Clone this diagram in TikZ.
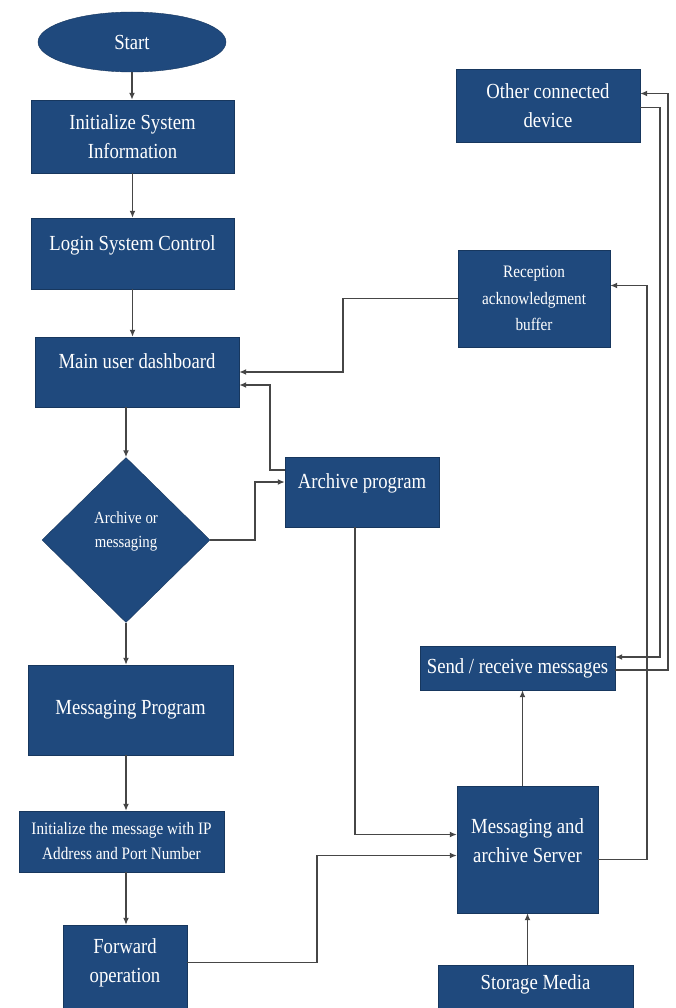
\documentclass[tikz,border=0pt]{standalone}
\usepackage{fontspec}
\setmainfont{Liberation Serif}[FakeStretch=0.87]
\usetikzlibrary{shapes.geometric,arrows.meta}
\definecolor{boxblue}{RGB}{31,73,125}
\definecolor{wire}{RGB}{70,70,70}
\newcommand{\bigtext}{\fontsize{21.5}{29}\selectfont}
\newcommand{\smalltext}{\fontsize{17.5}{25}\selectfont}

\begin{document}
\begin{tikzpicture}[x=1pt,y=-1pt,
  box/.style={draw=boxblue!75!black, fill=boxblue, text=white, rectangle, align=center, inner sep=0pt, font=\bigtext},
  flow/.style={draw=wire, line width=1.5pt, -{Latex[length=7pt,width=6pt]}}]
\useasboundingbox (0,0) rectangle (676,1008);
% left column
\node[box, shape=ellipse, minimum width=188pt, minimum height=60pt] (1) at (132,42) {Start};
\node[box, minimum width=203pt, minimum height=73pt] (2) at (132.5,136.5) {Initialize System\\Information};
\node[box, minimum width=203pt, minimum height=71pt, text height=15pt, text depth=22pt] (3) at (132.5,253.5) {Login System Control};
\node[box, minimum width=204pt, minimum height=70pt, text height=15pt, text depth=23pt] (4) at (137,372) {Main user dashboard};
\node[box, shape=diamond, aspect=1, minimum width=168pt, minimum height=165pt, font=\fontsize{17}{24}\selectfont, text height=36pt, text depth=22pt] (5) at (126,540) {Archive or\\messaging};
\node[box, minimum width=205pt, minimum height=90pt] (7) at (130.5,710) {Messaging Program};
\node[box, minimum width=205pt, minimum height=61pt, font=\smalltext] (8) at (121.5,841.5) {Initialize the message with IP\\Address and Port Number};
\node[box, minimum width=124pt, minimum height=85pt, text height=44pt, text depth=15pt] (9) at (125,967.5) {Forward\\operation};
% right side
\node[box, minimum width=154pt, minimum height=70pt, text height=15pt, text depth=23pt] (6) at (362,492) {Archive program};
\node[box, minimum width=184pt, minimum height=73pt] (14) at (548,105.5) {Other connected\\device};
\node[box, minimum width=152pt, minimum height=97pt, font=\fontsize{17.5}{26.5}\selectfont] (13) at (534,298.5) {Reception\\acknowledgment\\buffer};
\node[box, minimum width=195pt, minimum height=44pt] (11) at (517.5,668) {Send / receive messages};
\node[box, minimum width=141pt, minimum height=127pt, text height=44pt, text depth=19pt] (10) at (527.5,849.5) {Messaging and\\archive Server};
\node[box, minimum width=195pt, minimum height=45pt, text height=15pt, text depth=12pt] (12) at (535.5,987.5) {Storage Media};
\coordinate (up) at ([xshift=-5pt]10.north);
\coordinate (st) at ([xshift=-8pt]12.north);
% connectors
\path[flow] (1.south) -- (1.south |- 2.north);
\path[flow] (2) -- (3);
\path[flow] (3) -- (3 |- 4.north);
\path[flow] (4.south -| 5) -- (5);
\path[flow] (5) -- (5 |- 7.north);
\path[flow] (7.south -| 5) -- (8.north -| 5);
\path[flow] (8.south -| 5) -- (9.north -| 5);
\path[flow] (5.east) -- ++(45,0) |- ([yshift=10pt]6.west);
\path[flow] ([yshift=22pt]6.west) -- ++(-15,0) |- ([yshift=-13pt]4.east);
\path[flow] (13.west) -- ++(-115,0) |- (4.east);
\path[flow] ([xshift=-7pt]6.south) |- ([yshift=15pt]10.west);
\path[flow] ([yshift=5pt]9.east) -- ++(130,0) |- ([yshift=-6pt]10.west);
\path[flow] (up) -- (up |- 11.south);
\path[flow] (st) -- (st |- 10.south);
\path[flow] ([yshift=-10pt]10.east) -- ++(49,0) |- ([yshift=13pt]13.east);
\path[flow] ([yshift=-2pt]14.east) -- ++(20,0) |- ([yshift=11pt]11.east);
\path[flow] ([yshift=-2pt]11.east) -- ++(53,0) |- ([yshift=12pt]14.east);
\end{tikzpicture}
\end{document}
